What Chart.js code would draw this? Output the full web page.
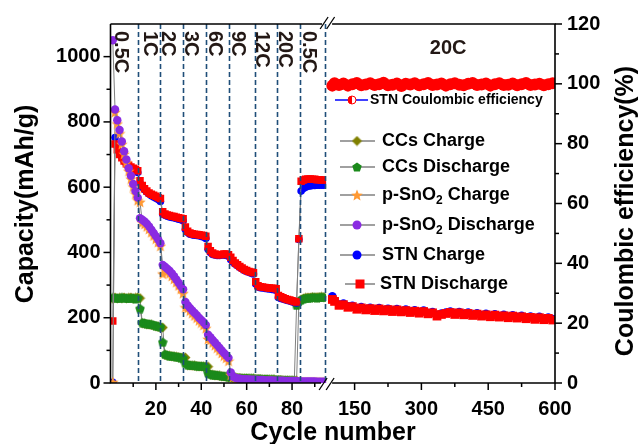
<!DOCTYPE html>
<html><head><meta charset="utf-8">
<script src="https://cdn.jsdelivr.net/npm/chart.js@4.4.1/dist/chart.umd.min.js"></script>
<style>html,body{margin:0;padding:0;background:#fff;overflow:hidden}</style>
</head><body><canvas id="c" width="639" height="444"></canvas>
<script>
// ---------- data ----------
const cyclesLeft = [1,2,3,4,5,6,7,8,9,10,11,12,13,14,15,16,17,18,19,20,21,22,23,24,25,26,27,28,29,30,31,32,33,34,35,36,37,38,39,40,41,42,43,44,45,46,47,48,49,50,51,52,53,54,55,56,57,58,59,60,61,62,63,64,65,66,67,68,69,70,71,72,73,74,75,76,77,78,79,80,81,82,83,84,85,86,87,88,89,90,91,92,93,94];
const stnDischargeLeft = [190,732,715,700,690,680,672,667,662,658,655,650, 620,605,595,588,582,578,575,572,568,565, 525,518,515,513,511,510,508,506,505,503, 478,465,460,457,456,455,454,453,452,450, 418,405,398,395,393,393,394,395,395,393, 385,375,368,362,357,352,348,345,342,340,338, 310,298,295,294,293,292,291,290,290,289, 268,264,261,258,256,254,252,250,248,442, 618,622,624,625,625,624,624,623,623,622,622];
const stnChargeLeft = [2,752,725,705,692,680,670,664,658,654,650,645, 612,600,592,585,579,574,570,566,562,556, 518,514,511,509,507,506,504,502,500,497, 470,461,456,454,453,452,451,449,447,443, 410,400,394,392,391,391,392,392,391,388, 378,370,364,359,354,349,345,342,339,336,334, 303,294,292,291,290,289,288,287,286,284, 262,259,257,255,253,251,249,247,245,440, 588,596,600,603,604,605,605,606,606,606,606];
const pSnO2DischargeLeft = [1050,838,805,775,740,710,685,658,635,610,588,568, 505,500,495,488,480,470,460,450,440,428, 362,356,350,344,336,327,317,307,297,287, 248,238,230,222,215,208,200,193,186,178, 148,140,132,124,116,108,100,92,85,77, 32,20,16,14,13,12,12,11,11,10,10, 10,9,9,9,8,8,8,8,7,7, 7,7,7,6,6,6,6,6,6,5, 5,5,5,5,5,5,5,4,4,4,4];
const pSnO2ChargeLeft = [3,830,795,765,732,702,676,650,626,602,580,560, 555,492,487,480,472,462,452,442,432,420, 335,348,342,336,328,319,309,299,289,275, 232,230,222,214,207,200,192,185,178,168, 135,132,124,116,108,100,92,84,77,68, 25,18,14,12,11,10,10,9,9,8,8, 8,7,7,7,6,6,6,6,5,5, 5,5,5,4,4,4,4,4,4,3, 3,3,3,3,3,3,3,3,3,3,3];
const ccsDischargeLeft = [262,260,261,259,262,260,261,259,260,261,258,260, 228,185,184,182,181,180,178,176,174,172, 125,88,86,84,83,82,81,80,78,76, 60,56,55,54,54,53,52,52,51,50, 30,27,26,25,24,23,22,21,20,19, 18,17,17,16,16,15,15,15,14,14,14, 13,13,13,12,12,12,11,11,11,10, 10,10,9,9,9,8,8,8,238,250, 255,258,260,260,261,262,262,261,262,263,262];
const ccsChargeLeft = [258,262,259,261,260,262,259,261,262,259,261,262, 260,183,182,180,179,178,176,174,172,170, 170,86,84,83,82,81,80,79,78,78, 78,55,54,53,53,52,51,51,50,50, 50,26,25,24,23,22,21,20,19,18, 18,16,16,15,15,14,14,14,13,13,13, 12,12,12,11,11,11,10,10,10,9, 9,9,8,8,8,7,7,7,7,248, 256,259,261,262,262,263,262,263,263,264,263];

const cyclesRight = [100,105,115,125,135,145,155,165,175,185,195,205,215,225,235,245,255,265,275,285,295,305,315,325,335,345,355,365,375,385,395,405,415,425,435,445,455,465,475,485,495,505,515,525,535,545,555,565,575,585,595];
const stnDischargeRight = [256,250,238,240,232,234,226,230,224,228,222, 227,221,225,219,224,218,222,216,220,214, 219,212,215,205,210,213,216,210,215,209, 213,207,211,205,209,203,208,202,206,200, 205,199,203,197,201,195,200,194,198,193];
const stnChargeRight = [266,253,241,244,235,237,229,233,227,231,225, 230,224,228,222,227,221,225,219,223,217, 222,215,218,208,213,216,219,213,218,212, 216,210,214,208,212,206,211,205,209,203, 208,202,206,200,204,198,203,197,201,196];
const ceRight = [99.4,100.2,99.6,100.1,99.4,99.9,100.3,99.5,99.8,100.2, 99.6,99.9,100.4,99.5,99.7,100.1,99.3,100.0,99.8,100.2, 99.5,99.9,100.3,99.6,99.8,100.1,99.4,99.9,100.2,99.7, 99.5,100.0,100.3,99.6,99.8,100.1,99.4,99.9,100.2,99.6, 99.7,100.1,99.5,99.9,100.3,99.6,99.8,100.0,99.5,99.9, 100.2];

const rateBoundaries = [12.3, 22, 32, 42.2, 52.2, 63.6, 73.5, 83.5, 94.3];
const rateLabels = ['0.5C','1C','2C','3C','6C','9C','12C','20C','0.5C'];
const rateLabelCycles = [4.6, 17.2, 25.1, 35.2, 45.8, 55.9, 66.5, 76.7, 87.2];
const rightRateLabel = '20C';
const rightRateLabelCycle = 360;

const xMajorLeft = [20,40,60,80], xMinorLeft = [10,30,50,70,90];
const xMajorRight = [150,300,450,600], xMinorRight = [225,375,525];
const yMajorLeft = [0,200,400,600,800,1000], yMinorLeft = [100,300,500,700,900];
const yMajorRight = [0,20,40,60,80,100,120], yMinorRight = [10,30,50,70,90,110];

// ---------- styles ----------
const FONT = "'Liberation Sans', Arial, sans-serif";
const C = { purple:'#8a2be2', orange:'#ff9933', red:'#ff0000', blue:'#0000ff', green:'#1b8a1b', olive:'#808000', grey:'#808080', dash:'#1f4e79', text:'#231815' };

function makeMarker(size, color, path) {
  const c = document.createElement('canvas'); c.width = size; c.height = size;
  const g = c.getContext('2d'); g.fillStyle = color; g.beginPath(); path(g, size / 2); g.closePath(); g.fill();
  return c;
}
const diamondM = makeMarker(11, C.olive, (g, h) => { g.moveTo(h, 0.5); g.lineTo(2*h-0.5, h); g.lineTo(h, 2*h-0.5); g.lineTo(0.5, h); });
const pentagonM = makeMarker(10, C.green, (g, h) => { for (let k = 0; k < 5; k++) { const a = -Math.PI/2 + k*2*Math.PI/5; g.lineTo(h + h*Math.cos(a), h + 0.4 + h*Math.sin(a)); } });
const starM = makeMarker(12, C.orange, (g, h) => { for (let k = 0; k < 10; k++) { const r = k % 2 ? h*0.45 : h; const a = -Math.PI/2 + k*Math.PI/5; g.lineTo(h + r*Math.cos(a), h + 0.6 + r*Math.sin(a)); } });

function pts(xs, ys) { return xs.map((x, i) => ({ x: x, y: ys[i] })); }
function ds(label, xs, ys, style, extra) {
  return Object.assign({ label, data: pts(xs, ys), showLine: true, borderColor: C.grey, borderWidth: 1,
    pointBorderWidth: 0, pointHoverRadius: 0 }, style, extra || {});
}
const clipR = { left: 6, top: 6, right: 0, bottom: 6 };

const datasets = [
  ds('p-SnO2 Discharge', cyclesLeft, pSnO2DischargeLeft, { pointStyle: 'circle', pointRadius: 4.2, pointBackgroundColor: C.purple }),
  ds('p-SnO2 Charge', cyclesLeft, pSnO2ChargeLeft, { pointStyle: starM, pointRadius: 4 }),
  ds('STN Discharge', cyclesLeft, stnDischargeLeft, { pointStyle: 'rect', pointRadius: 5.3, pointBackgroundColor: C.red }),
  ds('STN Charge', cyclesLeft, stnChargeLeft, { pointStyle: 'circle', pointRadius: 3.8, pointBackgroundColor: C.blue }),
  ds('CCs Discharge', cyclesLeft, ccsDischargeLeft, { pointStyle: pentagonM, pointRadius: 4 }),
  ds('CCs Charge', cyclesLeft, ccsChargeLeft, { pointStyle: diamondM, pointRadius: 4 }),
  ds('STN Discharge 20C', cyclesRight, stnDischargeRight, { pointStyle: 'rect', pointRadius: 6.2, pointBackgroundColor: C.red, showLine: false, xAxisID: 'x2', clip: clipR }),
  ds('STN Charge 20C', cyclesRight, stnChargeRight, { pointStyle: 'circle', pointRadius: 4.2, pointBackgroundColor: C.blue, showLine: false, xAxisID: 'x2', clip: clipR }),
  ds('STN Coulombic efficiency', cyclesRight, ceRight, { pointStyle: 'circle', pointRadius: 6, pointBackgroundColor: C.red, showLine: false, xAxisID: 'x2', yAxisID: 'y2', clip: clipR })
];
datasets.forEach(d => { if (!d.xAxisID) d.xAxisID = 'x'; if (!d.yAxisID) d.yAxisID = 'y'; });

function tickSetter(major, minor) { return s => { s.ticks = major.concat(minor).sort((a, b) => a - b).map(v => ({ value: v })); }; }
const tickFont = { family: FONT, size: 20, weight: 'bold' };

const MAJ = 7, MIN = 4;
const decor = {
  id: 'decor',
  afterDatasetsDraw(chart) {
    const ctx = chart.ctx, ca = chart.chartArea, sx = chart.scales.x;
    ctx.save();
    ctx.strokeStyle = C.dash; ctx.lineWidth = 1.6; ctx.setLineDash([5, 3]);
    rateBoundaries.forEach(c => { const px = Math.round(sx.getPixelForValue(c)) + 0.5; ctx.beginPath(); ctx.moveTo(px, ca.top); ctx.lineTo(px, ca.bottom); ctx.stroke(); });
    ctx.restore();
  },
  afterDraw(chart) {
    const ctx = chart.ctx, ca = chart.chartArea;
    const sx = chart.scales.x, sx2 = chart.scales.x2, sy = chart.scales.y, sy2 = chart.scales.y2;
    ctx.save();
    ctx.strokeStyle = '#000'; ctx.lineWidth = 1.6; ctx.setLineDash([]);
    const gapL = sx.right - 5, gapR = sx.right + 6;
    // frame
    ctx.beginPath();
    ctx.moveTo(ca.left, ca.top); ctx.lineTo(ca.left, ca.bottom); ctx.lineTo(gapL, ca.bottom);
    ctx.moveTo(gapR, ca.bottom); ctx.lineTo(ca.right, ca.bottom); ctx.lineTo(ca.right, ca.top); ctx.lineTo(gapR, ca.top);
    ctx.moveTo(gapL + 1, ca.top); ctx.lineTo(ca.left, ca.top);
    ctx.stroke();
    // break marks
    ctx.lineWidth = 1.3;
    [[sx.right - 3, ca.bottom + 1], [sx.right + 4, ca.bottom + 1], [sx.right - 2, ca.top - 1], [sx.right + 4.5, ca.top - 1]].forEach(([cx, cy]) => {
      ctx.beginPath(); ctx.moveTo(cx - 4, cy + 6); ctx.lineTo(cx + 4, cy - 6); ctx.stroke();
    });
    // tick marks
    ctx.lineWidth = 1.5;
    const tick = (x1, y1, x2, y2) => { ctx.beginPath(); ctx.moveTo(x1, y1); ctx.lineTo(x2, y2); ctx.stroke(); };
    xMajorLeft.forEach(v => { const p = sx.getPixelForValue(v); tick(p, ca.bottom, p, ca.bottom + MAJ); });
    xMinorLeft.forEach(v => { const p = sx.getPixelForValue(v); tick(p, ca.bottom, p, ca.bottom + MIN); });
    xMajorRight.forEach(v => { const p = sx2.getPixelForValue(v); tick(p, ca.bottom, p, ca.bottom + MAJ); });
    xMinorRight.forEach(v => { const p = sx2.getPixelForValue(v); tick(p, ca.bottom, p, ca.bottom + MIN); });
    yMajorLeft.forEach(v => { const p = sy.getPixelForValue(v); tick(ca.left - MAJ, p, ca.left, p); });
    yMinorLeft.forEach(v => { const p = sy.getPixelForValue(v); tick(ca.left - MIN, p, ca.left, p); });
    yMajorRight.forEach(v => { const p = sy2.getPixelForValue(v); tick(ca.right, p, ca.right + MAJ, p); });
    yMinorRight.forEach(v => { const p = sy2.getPixelForValue(v); tick(ca.right, p, ca.right + MIN, p); });

    // rate labels
    ctx.fillStyle = C.text;
    ctx.font = 'bold 20px ' + FONT;
    ctx.textAlign = 'left'; ctx.textBaseline = 'middle';
    rateLabels.forEach((t, i) => {
      const px = sx.getPixelForValue(rateLabelCycles[i]);
      ctx.save(); ctx.translate(px, ca.top + 7); ctx.rotate(Math.PI / 2); ctx.fillText(t, 0, 0); ctx.restore();
    });
    ctx.textAlign = 'center';
    ctx.fillText(rightRateLabel, sx2.getPixelForValue(rightRateLabelCycle), 48);

    // axis titles
    ctx.fillStyle = '#000';
    ctx.font = 'bold 25px ' + FONT;
    ctx.save(); ctx.translate(26, 204); ctx.rotate(-Math.PI / 2); ctx.fillText('Capacity(mAh/g)', 0, 0); ctx.restore();
    ctx.save(); ctx.translate(626, 211); ctx.rotate(-Math.PI / 2); ctx.fillText('Coulombic efficiency(%)', 0, 0); ctx.restore();
    ctx.textBaseline = 'alphabetic';
    ctx.fillText('Cycle number', 333, 440);

    // legend
    const lx1 = 340, lx2 = 375, mx = 357, tx = 382;
    // CE entry
    ctx.strokeStyle = C.blue; ctx.lineWidth = 1.5;
    tick(335, 100, 368, 100);
    ctx.beginPath(); ctx.arc(352, 100, 4, 0, Math.PI * 2); ctx.fillStyle = '#fff'; ctx.fill();
    ctx.beginPath(); ctx.moveTo(352, 96); ctx.arc(352, 100, 4, -Math.PI / 2, Math.PI / 2, true); ctx.closePath(); ctx.fillStyle = C.red; ctx.fill();
    ctx.beginPath(); ctx.arc(352, 100, 4, 0, Math.PI * 2); ctx.strokeStyle = C.red; ctx.lineWidth = 1; ctx.stroke();
    ctx.fillStyle = '#000'; ctx.font = 'bold 14px ' + FONT; ctx.textAlign = 'left'; ctx.textBaseline = 'middle';
    ctx.fillText('STN Coulombic efficiency', 370, 100);

    const items = [
      { y: 141, parts: [['CCs Charge', 0]], m: diamondM },
      { y: 167, parts: [['CCs Discharge', 0]], m: pentagonM },
      { y: 195, parts: [['p-SnO', 0], ['2', 1], [' Charge', 0]], m: starM },
      { y: 225, parts: [['p-SnO', 0], ['2', 1], [' Discharge', 0]], m: 'purple' },
      { y: 255, parts: [['STN Charge', 0]], m: 'blue' },
      { y: 284, parts: [['STN Discharge', 0]], m: 'red' }
    ];
    items.forEach(it => {
      ctx.strokeStyle = C.grey; ctx.lineWidth = 1.5;
      tick(it.m === 'red' ? 345 : lx1, it.y, lx2, it.y);
      if (typeof it.m === 'string') {
        ctx.fillStyle = C[it.m];
        if (it.m === 'red') { ctx.fillRect(mx + 3 - 4.5, it.y - 4.5, 9, 9); }
        else { ctx.beginPath(); ctx.arc(mx, it.y, 4.5, 0, Math.PI * 2); ctx.fill(); }
      } else {
        ctx.drawImage(it.m, mx - it.m.width / 2, it.y - it.m.height / 2);
      }
      let x = it.m === 'red' ? tx - 2 : tx;
      ctx.fillStyle = '#000';
      it.parts.forEach(([t, sub]) => {
        ctx.font = (sub ? 'bold 12px ' : 'bold 18px ') + FONT;
        ctx.fillText(t, x, it.y + (sub ? 6 : 0));
        x += ctx.measureText(t).width;
      });
    });
    ctx.restore();
  }
};

new Chart(document.getElementById('c'), {
  type: 'scatter',
  data: { datasets },
  options: {
    responsive: false, animation: false, events: [],
    layout: { padding: { top: 22, left: 0, right: 0, bottom: 0 } },
    plugins: { legend: { display: false }, tooltip: { enabled: false } },
    scales: {
      x: { type: 'linear', position: 'bottom', stack: 'cyc', stackWeight: 215.6, weight: 1, min: 0, max: 95,
        grid: { display: false, drawTicks: false }, border: { display: false },
        ticks: { font: tickFont, color: '#000', padding: 14, autoSkip: false, maxRotation: 0, callback: v => xMajorLeft.includes(v) ? String(v) : '' },
        afterBuildTicks: tickSetter(xMajorLeft, xMinorLeft), afterFit: s => { s.height = 61; } },
      x2: { type: 'linear', position: 'bottom', stack: 'cyc', stackWeight: 228.9, weight: 2, min: 86, max: 600,
        grid: { display: false, drawTicks: false }, border: { display: false },
        ticks: { font: tickFont, color: '#000', padding: 14, autoSkip: false, maxRotation: 0, callback: v => xMajorRight.includes(v) ? String(v) : '' },
        afterBuildTicks: tickSetter(xMajorRight, xMinorRight), afterFit: s => { s.height = 61; } },
      y: { type: 'linear', position: 'left', min: 0, max: 1100,
        grid: { display: false, drawTicks: false }, border: { display: false },
        ticks: { font: tickFont, color: '#000', padding: 10, autoSkip: false, callback: v => yMajorLeft.includes(v) ? String(v) : '' },
        afterBuildTicks: tickSetter(yMajorLeft, yMinorLeft), afterFit: s => { s.width = 110.5; } },
      y2: { type: 'linear', position: 'right', min: 0, max: 120,
        grid: { display: false, drawTicks: false }, border: { display: false },
        ticks: { font: tickFont, color: '#000', padding: 12, autoSkip: false, callback: v => yMajorRight.includes(v) ? String(v) : '' },
        afterBuildTicks: tickSetter(yMajorRight, yMinorRight), afterFit: s => { s.width = 84; } }
    }
  },
  plugins: [decor]
});
</script>
</body></html>
